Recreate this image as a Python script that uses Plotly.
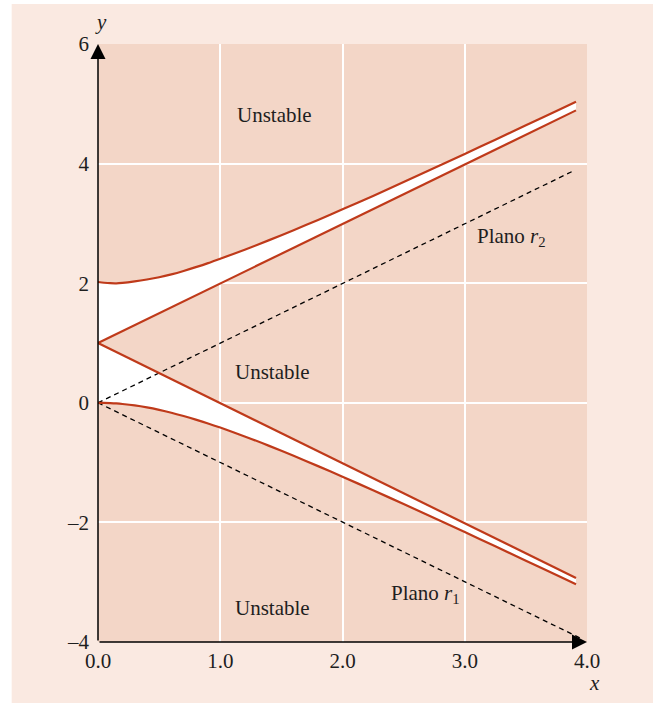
import plotly.graph_objects as go

# ---- data ----
curve_x = [0.0, 0.05, 0.1, 0.15, 0.2, 0.3, 0.4, 0.5, 0.6, 0.7, 0.8, 0.9, 1.0,
           1.2, 1.4, 1.6, 1.8, 2.0, 2.25, 2.5, 2.75, 3.0, 3.25, 3.5, 3.75, 3.91]
upper_curve_y = [2.02, 2.008, 2.0, 1.998, 2.005, 2.03, 2.062, 2.10, 2.148, 2.205, 2.268, 2.336, 2.41,
                 2.56, 2.72, 2.886, 3.058, 3.236, 3.46, 3.692, 3.926, 4.162, 4.40, 4.64, 4.881, 5.035]
lower_curve_y = [0.0, -0.001, -0.005, -0.011, -0.02, -0.044, -0.077, -0.118, -0.166, -0.221, -0.281, -0.345, -0.414,
                 -0.562, -0.72, -0.887, -1.059, -1.236, -1.462, -1.693, -1.926, -2.162, -2.40, -2.64, -2.881, -3.035]

line_x = [0.0, 3.91]
upper_line_y = [1.0, 4.89]
lower_line_y = [1.0, -2.93]

r2_x = [0.0, 3.88]
r2_y = [0.0, 3.87]
r1_x = [0.0, 3.96]
r1_y = [0.0, -3.95]

x_tickvals = [0, 1, 2, 3, 4]
x_ticktext = ["0.0", "1.0", "2.0", "3.0", "4.0"]
y_tickvals = [-4, -2, 0, 2, 4, 6]
y_ticktext = ["–4", "–2", "0", "2", "4", "6"]

region_labels = ["Unstable", "Unstable", "Unstable"]
region_x = [1.44, 1.43, 1.43]
region_y = [4.82, 0.52, -3.43]

plane_labels = ["Plano <i>r</i><sub>2</sub>", "Plano <i>r</i><sub>1</sub>"]
plane_x = [3.38, 2.68]
plane_y = [2.78, -3.2]

# ---- styles ----
RUST = "#BF3A1A"
PLOT_BG = "#F3D6C7"
OUTER_BG = "#FAE9E1"
TEXT = "#1e1e1e"
FONT = "Liberation Serif"
FS = 21

fig = go.Figure()

# white (stable) regions
fig.add_trace(go.Scatter(
    x=curve_x + line_x[::-1],
    y=upper_curve_y + upper_line_y[::-1],
    fill="toself", fillcolor="white", line=dict(width=0), mode="lines",
    hoverinfo="skip", showlegend=False))
fig.add_trace(go.Scatter(
    x=line_x + curve_x[::-1],
    y=lower_line_y + lower_curve_y[::-1],
    fill="toself", fillcolor="white", line=dict(width=0), mode="lines",
    hoverinfo="skip", showlegend=False))

# dashed planes
for xs, ys in [(r2_x, r2_y), (r1_x, r1_y)]:
    fig.add_trace(go.Scatter(x=xs, y=ys, mode="lines",
                             line=dict(color="black", width=1.3, dash="5px,4px"),
                             showlegend=False, hoverinfo="skip"))

# boundary curves and lines
for xs, ys in [(curve_x, upper_curve_y), (curve_x, lower_curve_y),
               (line_x, upper_line_y), (line_x, lower_line_y)]:
    fig.add_trace(go.Scatter(x=xs, y=ys, mode="lines",
                             line=dict(color=RUST, width=2.2, shape="spline", smoothing=0.8),
                             showlegend=False, hoverinfo="skip"))

annotations = []
for t, x, y in zip(region_labels, region_x, region_y):
    annotations.append(dict(x=x, y=y, text=t, showarrow=False,
                            font=dict(family=FONT, size=FS, color=TEXT)))
for t, x, y in zip(plane_labels, plane_x, plane_y):
    annotations.append(dict(x=x, y=y, text=t, showarrow=False,
                            font=dict(family=FONT, size=FS, color=TEXT)))

# axis arrows
annotations.append(dict(x=0, y=6, ax=0, ay=-4, xref="x", yref="y", axref="x", ayref="y",
                        text="", showarrow=True, arrowhead=2, arrowsize=2,
                        arrowwidth=1.5, arrowcolor="black"))
annotations.append(dict(x=4, y=-4, ax=0, ay=-4, xref="x", yref="y", axref="x", ayref="y",
                        text="", showarrow=True, arrowhead=2, arrowsize=2,
                        arrowwidth=1.5, arrowcolor="black"))
# axis titles
annotations.append(dict(x=0, y=6, xref="x", yref="y", text="<i>y</i>", showarrow=False,
                        xshift=3, yshift=22, font=dict(family=FONT, size=FS, color=TEXT)))
annotations.append(dict(x=4, y=-4, xref="x", yref="y", text="<i>x</i>", showarrow=False,
                        xshift=7, yshift=-41, font=dict(family=FONT, size=FS, color=TEXT)))

W, H = 653, 703
L, R, T, B = 97.5, 65.5, 44, 61
pw, ph = W - L - R, H - T - B

fig.update_layout(
    width=W, height=H,
    margin=dict(l=L, r=R, t=T, b=B, pad=0),
    paper_bgcolor=OUTER_BG,
    plot_bgcolor=PLOT_BG,
    annotations=annotations,
    shapes=[
        dict(type="rect", xref="paper", yref="paper", layer="below",
             x0=-L / pw - 0.01, x1=(11 - L) / pw, y0=-B / ph - 0.01, y1=1 + T / ph + 0.01,
             fillcolor="white", line=dict(width=0)),
        dict(type="rect", xref="paper", yref="paper", layer="below",
             x0=-L / pw - 0.01, x1=1 + R / pw + 0.01, y0=1 + (T - 4) / ph, y1=1 + T / ph + 0.01,
             fillcolor="white", line=dict(width=0)),
    ],
    xaxis=dict(range=[0, 4], tickvals=x_tickvals, ticktext=x_ticktext,
               showgrid=True, gridcolor="white", gridwidth=1.5,
               zeroline=False, showline=False, ticks="",
               tickfont=dict(family=FONT, size=FS, color=TEXT),
               ticklabelstandoff=4),
    yaxis=dict(range=[-4, 6], tickvals=y_tickvals, ticktext=y_ticktext,
               showgrid=True, gridcolor="white", gridwidth=1.5,
               zeroline=False, showline=False, ticks="",
               tickfont=dict(family=FONT, size=FS, color=TEXT),
               ticklabelstandoff=8),
    font=dict(family=FONT),
)

fig.write_html(
    "out.html",
    config={"displayModeBar": False},
    post_script=("document.documentElement.style.margin='0';"
                 "document.body.style.margin='0';"
                 "document.body.style.overflow='hidden';"
                 "document.documentElement.style.overflow='hidden';"),
)
